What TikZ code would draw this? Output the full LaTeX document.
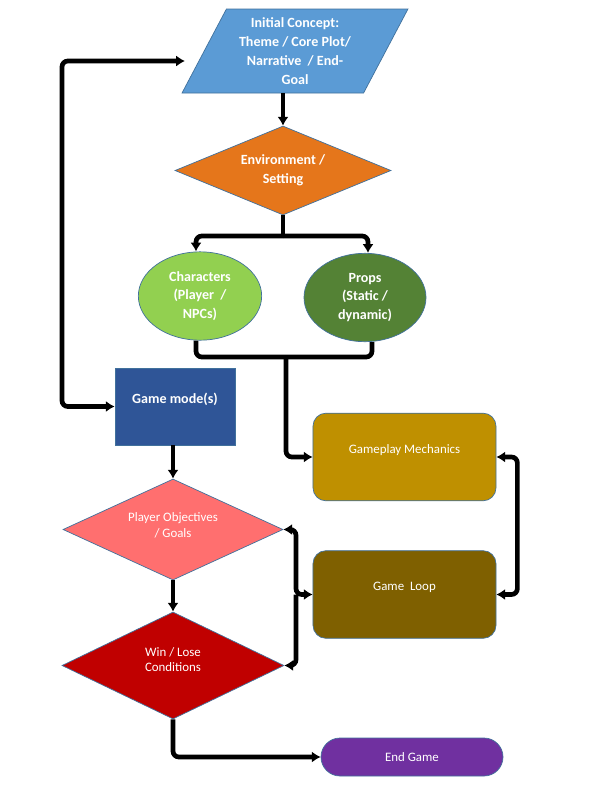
\documentclass[tikz,border=0pt]{standalone}
\usepackage{fontspec}
\setmainfont{Carlito}
\usepackage{tikz}
\usetikzlibrary{positioning, arrows.meta, shapes.geometric, shapes.misc}

\definecolor{conceptblue}{HTML}{5B9BD5}
\definecolor{edgeblue}{HTML}{41719C}
\definecolor{envorange}{HTML}{E5761B}
\definecolor{charsgreen}{HTML}{92D050}
\definecolor{propsgreen}{HTML}{548235}
\definecolor{modeblue}{HTML}{2F5597}
\definecolor{objred}{HTML}{FF6F6F}
\definecolor{wincrimson}{HTML}{C00000}
\definecolor{mechgold}{HTML}{BF9000}
\definecolor{loopbrown}{HTML}{7F6000}
\definecolor{endpurple}{HTML}{7030A0}

\begin{document}
\begin{tikzpicture}[x=0.03cm, y=-0.03cm,
	>={Latex[length=7.5pt,width=9.5pt]},
	conn/.style={line width=4pt, rounded corners=5pt},
	boldtxt/.style={text=white, font=\fontsize{12}{16}\selectfont\bfseries, align=center},
	plaintxt/.style={text=white, font=\fontsize{11}{13.5}\selectfont, align=center},
	outlined/.style={draw=edgeblue, line width=0.6pt, inner sep=0pt},
	decision/.style={outlined, diamond, aspect=2.4},
	blob/.style={outlined, ellipse, boldtxt, minimum width=3.7cm, minimum height=2.65cm},
	stage/.style={outlined, rectangle, rounded corners=0.39cm, minimum width=5.49cm, minimum height=2.63cm}]

\path[fill=white] (0,0) rectangle (600,804);

\node[outlined, trapezium, trapezium left angle=61.3, trapezium right angle=118.7,
	trapezium stretches=true, minimum width=6.78cm, minimum height=2.52cm,
	fill=conceptblue, boldtxt] (init) at (295,51)
	{Initial Concept:\\Theme / Core Plot/\\Narrative~ / End-\\Goal};
\node[decision, fill=envorange, boldtxt, minimum width=6.48cm, minimum height=2.67cm]
	(env) at (283,170.5) {Environment /\\Setting};
\node[blob, fill=charsgreen] (chars) at (200,296) {Characters\\(Player~ /\\NPCs)};
\node[blob, fill=propsgreen, minimum width=3.66cm] (props) at (365,297.5) {Props\\(Static /\\dynamic)};

\node[outlined, rectangle, fill=modeblue, minimum width=3.6cm, minimum height=2.31cm,
	label={[boldtxt, yshift=0.22cm]center:Game mode(s)}] (mode) at (175,406.5) {};
\node[decision, fill=objred, minimum width=6.6cm, minimum height=3.03cm,
	label={[plaintxt, yshift=0.135cm]center:Player Objectives\\/ Goals}] (obj) at (173,529.5) {};
\node[decision, fill=wincrimson, minimum width=6.66cm, minimum height=3.21cm,
	label={[plaintxt, yshift=0.18cm]center:Win / Lose\\Conditions}] (win) at (173,665.5) {};

\node[stage, fill=mechgold, label={[plaintxt, yshift=0.21cm]center:Gameplay Mechanics}]
	(mech) at (404.5,457) {};
\node[stage, fill=loopbrown, label={[plaintxt, yshift=0.22cm]center:Game~ Loop}]
	(loop) at (404.5,594.5) {};
\node[outlined, rounded rectangle, fill=endpurple, plaintxt, minimum width=5.46cm,
	minimum height=1.14cm] (endg) at (412,757) {End Game};

\coordinate (back) at (185,61);
\coordinate (fork) at (283,236);
\coordinate (join) at (286,357);
\coordinate (midloop) at (296,594.5);

\draw[conn,->] (env.north |- init.south) -- (env.north);
\draw[conn] (env.south) -- (fork);
\draw[conn,->] (fork) -| ([xshift=-0.12cm]chars.north);
\draw[conn,->] (fork) -| ([xshift=0.09cm]props.north);
\draw[conn] ([xshift=-0.12cm]chars.south) |- (join) -| ([xshift=0.21cm]props.south);
\draw[conn,->] (join) |- (mech.west);
\draw[conn,<->] (back) -- (62,61) |- (mode.west);
\draw[conn,->] (obj.north |- mode.south) -- (obj.north);
\draw[conn,->] (obj.south) -- (win.north);
\draw[conn,->] (win.south) |- (endg.west);
\draw[conn,<->] (mech.east) -- ++(21,0) |- (loop.east);
\draw[conn,<->] (obj.east) -| (midloop) -- (loop.west);
\draw[conn,->] (midloop) |- (win.east);

\end{tikzpicture}
\end{document}
